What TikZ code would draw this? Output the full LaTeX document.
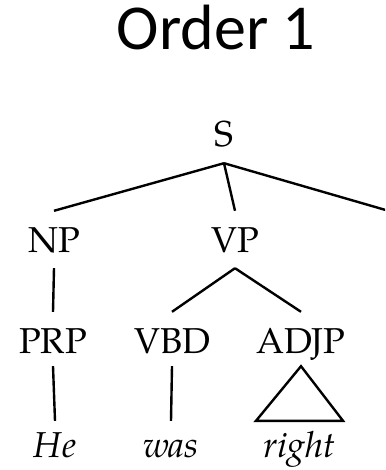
\documentclass[tikz,border=0pt]{standalone}
\usepackage{fontspec}
\newfontfamily\titlefont{Carlito}
\newfontfamily\treefont{texgyrepagella}[Extension=.otf, UprightFont=*-regular, ItalicFont=*-italic]
\begin{document}
\begin{tikzpicture}[x=1pt, y=-1pt, line width=2.4pt,
		cat/.style={anchor=base, font=\treefont\fontsize{36}{36}\selectfont,
			text height=25pt, text depth=0pt, inner xsep=0pt, inner ysep=15pt},
		word/.style={cat, font=\treefont\itshape\fontsize{36}{36}\selectfont, inner ysep=10pt}]
	\useasboundingbox (0, 0) rectangle (385, 470);
	\clip (0, 0) rectangle (385, 470);

	% Title
	\node[anchor=base, inner sep=0pt, font=\titlefont\fontsize{64}{64}\selectfont] (title) at (216, 50) {Order 1};

	% Tree nodes
	\node[cat] (S) at (224, 147) {S};
	\node[cat] (NP) at (54, 252) {NP};
	\node[cat] (VP) at (235, 252) {VP};
	\coordinate (rest) at (396, 213);
	\node[cat] (PRP) at (53, 353) {PRP};
	\node[cat] (VBD) at (172, 353) {VBD};
	\node[cat] (ADJP) at (301, 353) {ADJP};
	\node[word] (he) at (55, 457) {He};
	\node[word] (was) at (171, 457) {was};
	\node[word] (right) at (299, 457) {right};

	% Draw branches
	\draw (S.south) -- (NP.north);
	\draw (S.south) -- (VP.north);
	\draw (S.south) -- (rest);
	\draw (NP.south) -- (PRP.north);
	\draw (VP.south) -- (VBD.north);
	\draw (VP.south) -- (ADJP.north);
	\draw ([yshift=3pt]PRP.south) -- (he.north);
	\draw ([yshift=3pt]VBD.south) -- (was.north);

	% Draw triangle over the phrase
	\draw[line join=miter] ([yshift=3pt]ADJP.south) -- ([xshift=-43pt]right.north) -- ([xshift=44pt]right.north) -- cycle;
\end{tikzpicture}
\end{document}
